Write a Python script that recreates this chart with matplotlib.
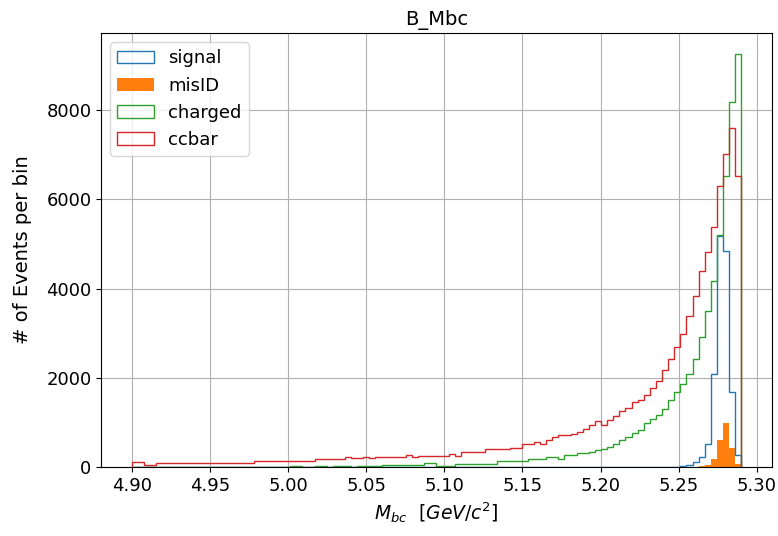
import matplotlib
matplotlib.use("Agg")
import matplotlib.pyplot as plt
import numpy as np

plt.rcParams.update({
    "font.size": 13, "axes.titlesize": 14,
    "xtick.labelsize": 13, "ytick.labelsize": 13,
})

# 100 bins over the Mbc window
edges = np.linspace(4.90, 5.29, 101)

# counts per bin (bins 0..99)
ccbar = (
    [110, 110, 40, 40] + [90] * 16 + [140] * 10
    + [185, 185, 185, 185, 185, 230, 190, 190, 225, 205]
    + [210, 210, 210, 210, 210, 255, 210, 236, 236, 236]
    + [236, 236, 283, 236, 336, 336, 336, 336, 390, 390]
    + [390, 390, 434, 434, 523, 523, 560, 523, 597, 671]
    + [709, 709, 740, 783, 858, 933, 1029, 933, 1060, 1150]
    + [1250, 1330, 1454, 1508, 1620, 1776, 1930, 2163, 2425, 2685]
    + [2984, 3394, 3841, 4385, 4810, 5369, 6302, 7011, 7606, 6526]
)
charged = (
    [0] * 26
    + [30, 30, 0, 0, 30, 30, 0, 30, 30, 30]
    + [0, 30, 30, 30, 30, 38, 38, 38, 38, 38]
    + [38, 38, 90, 90, 15, 15, 15, 75, 75, 75]
    + [75, 75, 75, 75, 127, 127, 127, 127, 127, 172]
    + [172, 187, 224, 224, 165, 262, 262, 300, 320, 336]
    + [370, 390, 448, 508, 597, 671, 761, 821, 980, 1082]
    + [1157, 1306, 1492, 1678, 1866, 2090, 2425, 2908, 3506, 4176]
    + [5200, 6526, 8188, 9262]
)
signal = [0] * 89 + [5, 15, 40, 112, 224, 523, 2090, 5183, 4848, 1678, 262]
misid = [0] * 93 + [10, 40, 170, 597, 985, 420, 60]

fig = plt.figure(figsize=(7.78, 5.36), dpi=100)
ax = fig.add_axes([0.130, 0.129, 0.862, 0.809])

left = edges[:-1]
lw = 1.0
ax.hist(left, bins=edges, weights=signal, histtype="step", lw=lw, color="tab:blue", label="signal")
ax.hist(left, bins=edges, weights=misid, histtype="stepfilled", color="tab:orange", label="misID")
ax.hist(left, bins=edges, weights=charged, histtype="step", lw=lw, color="tab:green", label="charged")
ax.hist(left, bins=edges, weights=ccbar, histtype="step", lw=lw, color="tab:red", label="ccbar")

ax.set_xticks([4.90, 4.95, 5.00, 5.05, 5.10, 5.15, 5.20, 5.25, 5.30])
ax.set_yticks([0, 2000, 4000, 6000, 8000])
ax.grid(True)
ax.set_title("B_Mbc")
ax.set_xlabel(r"$M_{bc}$  $[GeV/c^2]$", fontsize=13.5)
ax.set_ylabel("# of Events per bin", fontsize=14, labelpad=10)
ax.legend(loc="upper left", fontsize=13)

fig.savefig("out.png")
